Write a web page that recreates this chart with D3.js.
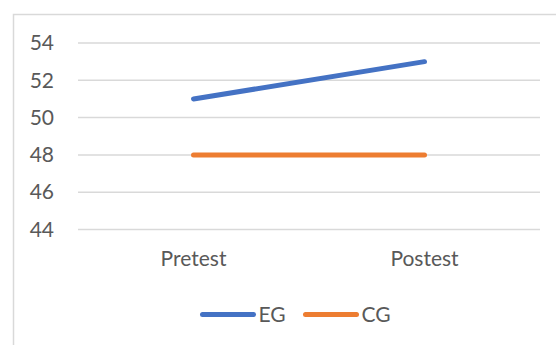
<!DOCTYPE html>
<html>
<head>
<meta charset="utf-8">
<script src="https://cdn.jsdelivr.net/npm/d3@7"></script>
<style>
  html, body { margin: 0; padding: 0; background: #fff; }
  svg { display: block; }
</style>
</head>
<body>
<svg id="chart" width="556" height="345"></svg>
<script>
// Mean scores by test phase
const categories = ["Pretest", "Postest"];
const seriesNames = ["EG", "CG"];
const egValues = [51, 53];
const cgValues = [48, 48];
const yTicks = [44, 46, 48, 50, 52, 54];
const colors = ["#4472C4", "#ED7D31"];

const svg = d3.select("#chart");
const font = "Lato, 'Open Sans', sans-serif";
const fontSize = 21;

// Chart frame
svg.append("rect")
  .attr("x", 13.5).attr("y", 14.5)
  .attr("width", 560).attr("height", 340)
  .attr("fill", "#fff")
  .attr("stroke", "#d9d9d9").attr("stroke-width", 1.5);

const plot = { left: 78, right: 540, top: 43, bottom: 229.5 };

const x = d3.scaleBand()
  .domain(categories)
  .range([plot.left, plot.right]);

const y = d3.scaleLinear()
  .domain([44, 54])
  .range([plot.bottom, plot.top]);

// Horizontal gridlines
svg.append("g")
  .selectAll("line")
  .data(yTicks)
  .join("line")
  .attr("x1", plot.left).attr("x2", plot.right)
  .attr("y1", d => y(d))
  .attr("y2", d => y(d))
  .attr("stroke", "#d9d9d9").attr("stroke-width", 1.5);

// Y axis labels
const yAxis = d3.axisLeft(y).tickValues(yTicks).tickSize(0).tickPadding(0);
const yg = svg.append("g")
  .attr("transform", `translate(${plot.left - 24},0)`)
  .call(yAxis);
yg.select(".domain").remove();
yg.selectAll("text")
  .attr("font-family", font).attr("font-size", fontSize)
  .attr("fill", "#595959");

// X axis labels
const xAxis = d3.axisBottom(x).tickSize(0).tickPadding(0);
const xg = svg.append("g")
  .attr("transform", `translate(0,${plot.bottom + 22})`)
  .call(xAxis);
xg.select(".domain").remove();
xg.selectAll("text")
  .attr("font-family", font).attr("font-size", fontSize)
  .attr("fill", "#595959");

// Series lines
const series = [
  { name: seriesNames[0], values: egValues, color: colors[0] },
  { name: seriesNames[1], values: cgValues, color: colors[1] }
];

const line = d3.line()
  .x((d, i) => x(categories[i]) + x.bandwidth() / 2)
  .y(d => y(d));

svg.append("g")
  .selectAll("path")
  .data(series)
  .join("path")
  .attr("d", d => line(d.values))
  .attr("fill", "none")
  .attr("stroke", d => d.color)
  .attr("stroke-width", 5)
  .attr("stroke-linecap", "round");

// Legend
const legendX = [202.5, 305.5];
const lg = svg.append("g")
  .selectAll("g")
  .data(series)
  .join("g")
  .attr("transform", (d, i) => `translate(${legendX[i]},314.5)`);
lg.append("line")
  .attr("x1", 0).attr("x2", 51)
  .attr("y1", 0).attr("y2", 0)
  .attr("stroke", d => d.color)
  .attr("stroke-width", 5)
  .attr("stroke-linecap", "round");
lg.append("text")
  .attr("x", 56).attr("y", 7.5)
  .attr("font-family", font).attr("font-size", fontSize)
  .attr("fill", "#595959")
  .text(d => d.name);
</script>
</body>
</html>
